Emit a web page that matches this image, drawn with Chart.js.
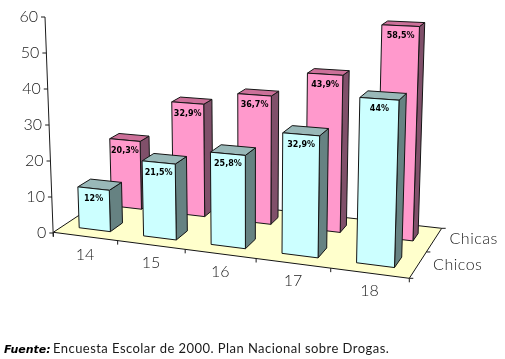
<!DOCTYPE html>
<html><head><meta charset="utf-8">
<style>html,body{margin:0;padding:0;background:#fff}canvas{display:block}</style>
<script src="https://cdn.jsdelivr.net/npm/chart.js@4"></script>
</head><body>
<canvas id="c" width="505" height="359"></canvas>
<script>
const ages = ['14','15','16','17','18'];
const chicos = [12, 21.5, 25.8, 32.9, 44];
const chicas = [20.3, 32.9, 36.7, 43.9, 58.5];
const footSource = 'Fuente:';
const footText = 'Encuesta Escolar de 2000. Plan Nacional sobre Drogas.';

// floor quad corners (front-left, front-right, back-right, back-left)
const Q = [[53.3,232.3],[409.3,278.3],[441.7,228.3],[114.5,191.8]];
const VP = [250,5600], HK = 0.955;
const ROWS = [{w0:0.15,w1:0.35,k:1},{w0:0.68,w1:0.84,k:1.02}];
const SERIES_OFF = [[15,0],[15,-1]];
const STY = [
 {front:'#CCFFFF',top:'#99B8B8',side:'#668282'},
 {front:'#FF99CC',top:'#CC7099',side:'#80506A'}];
const TICKFONT = '300 16px Lato', INK='#1a1a1a';

const H = (function(){
  const [[x0,y0],[x1,y1],[x2,y2],[x3,y3]] = Q;
  const dx1=x1-x2,dx2=x3-x2,sx=x0-x1+x2-x3,dy1=y1-y2,dy2=y3-y2,sy=y0-y1+y2-y3;
  const det=dx1*dy2-dx2*dy1;
  const g=(sx*dy2-dx2*sy)/det,h=(dx1*sy-sx*dy1)/det;
  return {a:x1-x0+g*x1,b:x3-x0+h*x3,c:x0,d:y1-y0+g*y1,e:y3-y0+h*y3,f:y0,g,h};
})();
function floorPt(u,w){
  const D=H.g*u+H.h*w+1;
  return {x:(H.a*u+H.b*w+H.c)/D,y:(H.d*u+H.e*w+H.f)/D,D};
}
function pt3(u,w,hpx){
  const p=floorPt(u,w);
  const vx=p.x-VP[0],vy=p.y-VP[1],L=Math.hypot(vx,vy);
  const s=hpx*HK/p.D;
  return [p.x+vx/L*s,p.y+vy/L*s];
}
function poly(ctx,pts,fill){
  ctx.beginPath();pts.forEach((p,i)=>i?ctx.lineTo(p[0],p[1]):ctx.moveTo(p[0],p[1]));ctx.closePath();
  if(fill){ctx.fillStyle=fill;ctx.fill();}
  ctx.lineWidth=1;ctx.strokeStyle='#141414';ctx.stroke();
}
function seg(ctx,a,b){ctx.beginPath();ctx.moveTo(a[0],a[1]);ctx.lineTo(b[0],b[1]);ctx.stroke();}
function fmt(v){return String(v).replace('.',',')+'%';}

const scene3d = {
  id:'scene3d',
  beforeDatasetsDraw(chart){
    const ctx=chart.ctx,xs=chart.scales.x,ys=chart.scales.y;
    ctx.save();
    // floor
    poly(ctx,Q,'#FFFFCC');
    ctx.strokeStyle=INK;ctx.lineWidth=1;
    // value axis, leaning
    const axTop=[45,ys.getPixelForValue(60)],axBot=[Q[0][0],ys.getPixelForValue(0)];
    seg(ctx,axTop,[axBot[0],axBot[1]+4]);
    ctx.font=TICKFONT;ctx.fillStyle=INK;ctx.textAlign='right';ctx.textBaseline='middle';
    ys.ticks.forEach(t=>{
      const py=ys.getPixelForValue(t.value);
      const k=(py-axTop[1])/(axBot[1]-axTop[1]);
      const ax=axTop[0]+k*(axBot[0]-axTop[0]);
      seg(ctx,[ax-4,py],[ax,py]);
      ctx.fillText(String(t.value),ax-7,py);
    });
    // category axis ticks and labels
    const band=xs.width/ages.length;
    for(let i=0;i<=ages.length;i++){
      const p=floorPt(i*band/xs.width,0);
      seg(ctx,[p.x,p.y],[p.x,p.y+4]);
    }
    ctx.textAlign='center';
    xs.ticks.forEach((t,i)=>{
      const c=floorPt((xs.getPixelForTick(i)-xs.left)/xs.width,0);
      ctx.fillText(xs.getLabelForValue(t.value),c.x,c.y+18);
    });
    // depth axis ticks and series names
    [0,0.5,1].forEach(w=>{const p=floorPt(1,w);seg(ctx,[p.x,p.y],[p.x+4,p.y]);});
    ctx.textAlign='left';
    ctx.letterSpacing='0.5px';
    chart.data.datasets.forEach((ds,di)=>{
      const r=ROWS[di],p=floorPt(1,(r.w0+r.w1)/2);
      ctx.fillText(ds.label,p.x+SERIES_OFF[di][0],p.y+SERIES_OFF[di][1]);
    });
    ctx.letterSpacing='0px';
    // bars: back row first
    [1,0].forEach(di=>{
      const r=ROWS[di],s=STY[di],meta=chart.getDatasetMeta(di);
      meta.data.forEach((el,j)=>{
        const u0=(el.x-el.width/2-xs.left)/xs.width,u1=(el.x+el.width/2-xs.left)/xs.width;
        const hp=(el.base-el.y)*r.k;
        const fl=pt3(u0,r.w0,0),fr=pt3(u1,r.w0,0),br=pt3(u1,r.w1,0);
        const tl=pt3(u0,r.w0,hp),tr=pt3(u1,r.w0,hp),tbr=pt3(u1,r.w1,hp),tbl=pt3(u0,r.w1,hp);
        poly(ctx,[fr,br,tbr,tr],s.side);
        poly(ctx,[tl,tr,tbr,tbl],s.top);
        poly(ctx,[fl,fr,tr,tl],s.front);
        ctx.font='bold 8px "DejaVu Sans"';ctx.fillStyle='#000';ctx.textAlign='center';ctx.textBaseline='middle';
        ctx.fillText(fmt(chart.data.datasets[di].data[j]),(tl[0]+tr[0])/2,(tl[1]+tr[1])/2+10.5);
      });
    });
    // source note
    ctx.textBaseline='alphabetic';ctx.textAlign='left';ctx.fillStyle='#000';
    ctx.font='italic bold 11px "DejaVu Sans"';ctx.fillText(footSource,4,353);
    ctx.font='13px Lato';ctx.letterSpacing='0.45px';ctx.fillStyle=INK;ctx.fillText(footText,53,353);
    ctx.restore();
    return false;
  }
};

new Chart(document.getElementById('c'),{
  type:'bar',
  data:{labels:ages,datasets:[
    {label:'Chicos',data:chicos,backgroundColor:STY[0].front},
    {label:'Chicas',data:chicas,backgroundColor:STY[1].front}]},
  options:{
    responsive:false,animation:false,
    layout:{padding:{left:53,right:96,top:17,bottom:126}},
    plugins:{legend:{display:false},title:{display:false},tooltip:{enabled:false}},
    datasets:{bar:{grouped:false,barPercentage:0.49,categoryPercentage:1}},
    scales:{
      x:{display:false,stacked:false},
      y:{display:false,min:0,max:60,ticks:{stepSize:10}}
    }
  },
  plugins:[scene3d]
});
</script>
</body></html>
